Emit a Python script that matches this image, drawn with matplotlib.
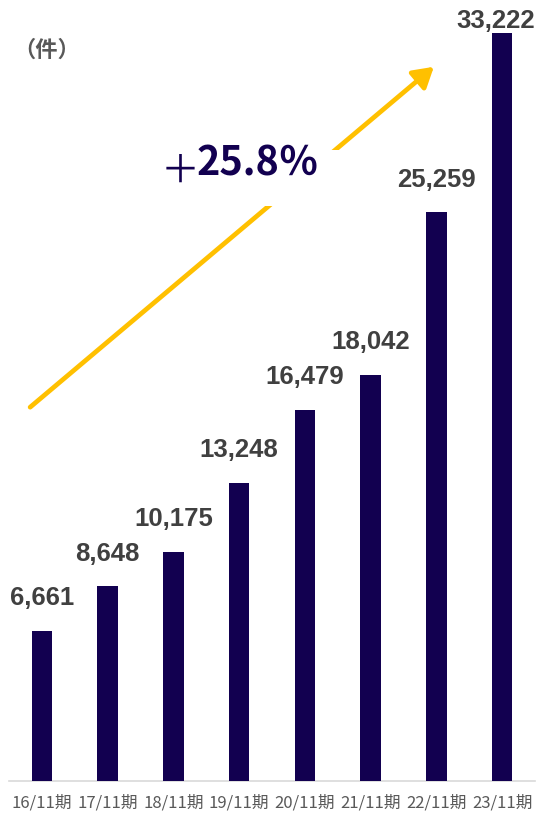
import matplotlib.pyplot as plt
from matplotlib.patches import Rectangle, FancyArrowPatch

plt.rcParams['font.family'] = ['Noto Sans CJK JP', 'DejaVu Sans']

periods = ['16/11期', '17/11期', '18/11期', '19/11期', '20/11期', '21/11期', '22/11期', '23/11期']
counts = [6661, 8648, 10175, 13248, 16479, 18042, 25259, 33222]
growth_label = '25.8％'

bar_color = '#120050'
label_color = '#404040'
tick_color = '#595959'
arrow_color = '#FFC000'

W, H = 538, 815
fig = plt.figure(figsize=(W / 100, H / 100), dpi=100)
ax = fig.add_axes([9 / W, 34 / H, 526 / W, 781 / H])

x = range(len(periods))
ax.bar(x, counts, width=0.31, color=bar_color, zorder=3)
ax.set_xlim(-0.5, len(periods) - 0.5)
ax.set_ylim(0, 34700)
ax.set_xticks(list(x))
ax.set_xticklabels(periods, fontsize=12, color=tick_color)
ax.tick_params(axis='x', length=0, pad=10)
ax.set_yticks([])
for s in ['top', 'right', 'left']:
    ax.spines[s].set_visible(False)
ax.spines['bottom'].set_color('#D9D9D9')
ax.spines['bottom'].set_linewidth(1.2)

# value labels above each bar (last one squeezed against the top edge)
for i, v in enumerate(counts):
    last = i == len(counts) - 1
    off = (-4.5, 3.5) if last else (0, 18.5)
    ax.annotate(f'{v:,}', (i, v), xytext=off, textcoords='offset points',
                ha='center', va='baseline', fontsize=18.5, fontweight='bold',
                color=label_color, family=['Liberation Sans', 'DejaVu Sans'])

# unit
fig.text(47 / W, 1 - 50 / H, '（件）', ha='center', va='center',
         fontsize=16, fontweight='bold', color=tick_color)

# growth arrow with a white gap behind the rate
fig.add_artist(FancyArrowPatch(
    (28 / W, 1 - 409 / H), (436 / W, 1 - 65 / H), transform=fig.transFigure,
    arrowstyle='-|>,head_length=5,head_width=3', color=arrow_color,
    linewidth=3.4, mutation_scale=2.4, zorder=4))
fig.add_artist(Rectangle((160 / W, 1 - 206 / H), 185 / W, 56 / H,
                         transform=fig.transFigure, facecolor='white',
                         edgecolor='none', zorder=5))
fig.text(180 / W, 1 - 172 / H, '＋', ha='center', va='center', fontsize=28,
         color=bar_color, zorder=6)
fig.text(197 / W, 1 - 175 / H, growth_label, ha='left', va='baseline',
         fontsize=28.5, fontweight='bold', color=bar_color, zorder=6)

fig.savefig('out.png', dpi=100)
